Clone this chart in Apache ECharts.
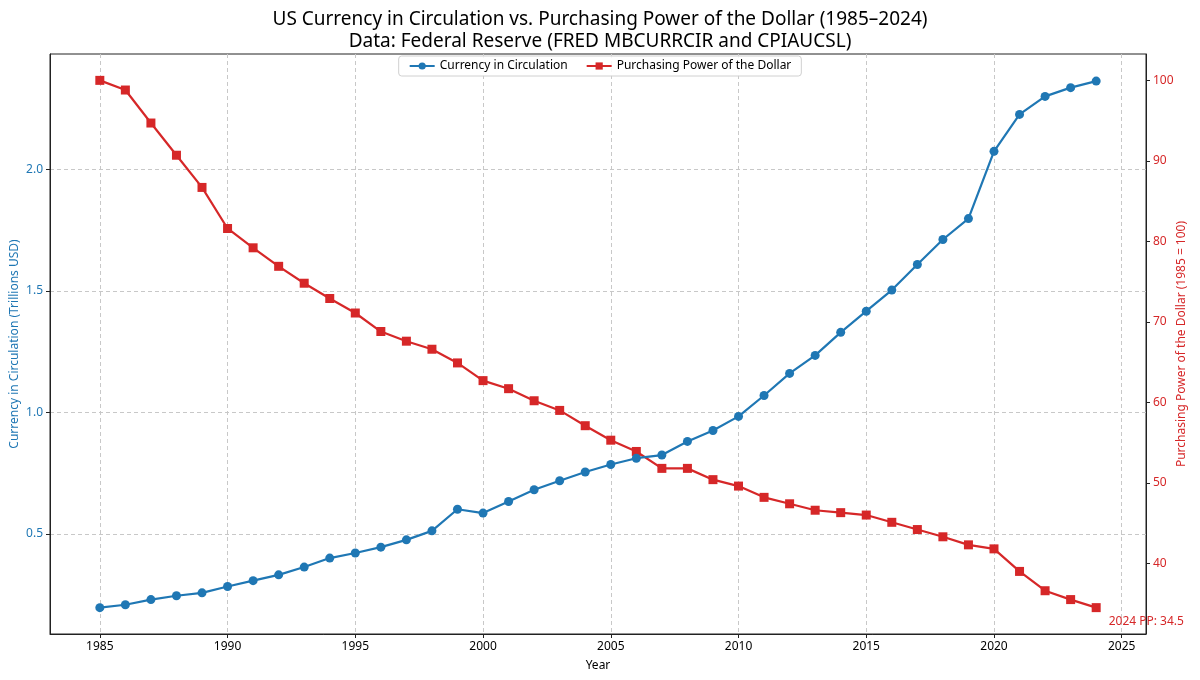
<!DOCTYPE html>
<html>
<head>
<meta charset="utf-8">
<script src="https://cdn.jsdelivr.net/npm/echarts@6/dist/echarts.min.js"></script>
<style>html,body{margin:0;padding:0;background:#fff;}#c{width:1200px;height:680px;}</style>
</head>
<body>
<div id="c"></div>
<script>
var years = [1985,1986,1987,1988,1989,1990,1991,1992,1993,1994,1995,1996,1997,1998,1999,2000,2001,2002,2003,2004,2005,2006,2007,2008,2009,2010,2011,2012,2013,2014,2015,2016,2017,2018,2019,2020,2021,2022,2023,2024];
var currency = [0.196,0.208,0.229,0.245,0.257,0.283,0.307,0.331,0.363,0.400,0.421,0.445,0.475,0.512,0.601,0.585,0.633,0.681,0.718,0.754,0.785,0.811,0.824,0.880,0.925,0.983,1.069,1.160,1.234,1.329,1.416,1.503,1.608,1.711,1.797,2.074,2.226,2.300,2.336,2.363];
var purchasing = [100.0,98.8,94.7,90.7,86.7,81.6,79.2,76.9,74.8,72.9,71.1,68.8,67.6,66.6,64.9,62.7,61.7,60.2,59.0,57.1,55.3,53.9,51.8,51.8,50.4,49.6,48.2,47.4,46.6,46.3,46.0,45.1,44.2,43.3,42.3,41.8,39.0,36.6,35.5,34.5];
var xTicks = [1985,1990,1995,2000,2005,2010,2015,2020,2025];
var leftTicks = [0.5,1.0,1.5,2.0];
var rightTicks = [40,50,60,70,80,90,100];
var annotationText = '2024 PP: 34.5';

var FONT = 'Noto Sans';
var BLUE = '#1f77b4', RED = '#d62728';

var curData = years.map(function(y,i){ return [y, currency[i]]; });
var ppData = years.map(function(y,i){
  var item = {value:[y, purchasing[i]]};
  if (i === years.length - 1) {
    item.label = {show:true, formatter: annotationText, position:'right', distance:8, offset:[0,13.5], color:RED, fontSize:12, fontFamily:FONT};
  }
  return item;
});

var gridLine = {show:true, lineStyle:{color:'#c8c8c8', type:[4,3], width:1}};

var chart = echarts.init(document.getElementById('c'));
chart.setOption({
  animation:false,
  backgroundColor:'#fff',
  title:{
    text:'US Currency in Circulation vs. Purchasing Power of the Dollar (1985\u20132024)\nData: Federal Reserve (FRED MBCURRCIR and CPIAUCSL)',
    left:'center', top:4,
    textStyle:{fontFamily:FONT, fontSize:19, fontWeight:'normal', color:'#000', lineHeight:22}
  },
  legend:{
    top:56, left:'center',
    itemWidth:25, itemHeight:9, itemGap:18,
    padding:[4,10],
    borderColor:'#d0d0d0', borderWidth:1, borderRadius:3, backgroundColor:'rgba(255,255,255,0.85)',
    textStyle:{fontFamily:FONT, fontSize:12, color:'#000'},
    data:['Currency in Circulation','Purchasing Power of the Dollar']
  },
  grid:{left:50, right:54, top:54, bottom:46, show:true, borderColor:'#222', borderWidth:1, backgroundColor:'transparent', containLabel:false, outerBoundsMode:'none'},
  xAxis:{
    type:'value', min:1983.05, max:2025.95,
    name:'Year', nameLocation:'middle', nameGap:26, nameMoveOverlap:false,
    nameTextStyle:{fontFamily:FONT, fontSize:12, color:'#000'},
    axisLine:{show:true, lineStyle:{color:'#222'}},
    axisTick:{show:true, length:4, lineStyle:{color:'#222'}, customValues:xTicks},
    axisLabel:{fontFamily:FONT, fontSize:12, color:'#000', margin:7, customValues:xTicks, formatter:function(v){return String(Math.round(v));}},
    splitLine:gridLine
  },
  yAxis:[{
    type:'value', min:0.0875, max:2.4745,
    name:'Currency in Circulation (Trillions USD)', nameLocation:'middle', nameGap:29, nameMoveOverlap:false,
    nameTextStyle:{fontFamily:FONT, fontSize:12, color:BLUE},
    axisLine:{show:true, lineStyle:{color:'#222'}},
    axisTick:{show:true, length:4, lineStyle:{color:'#222'}, customValues:leftTicks},
    axisLabel:{fontFamily:FONT, fontSize:12, color:BLUE, margin:7, customValues:leftTicks, formatter:function(v){return v.toFixed(1);}},
    splitLine:gridLine
  },{
    type:'value', min:31.225, max:103.275, position:'right',
    name:'Purchasing Power of the Dollar (1985 = 100)', nameLocation:'middle', nameGap:30, nameMoveOverlap:false,
    nameTextStyle:{fontFamily:FONT, fontSize:12, color:RED},
    axisLine:{show:true, lineStyle:{color:'#222'}},
    axisTick:{show:true, length:4, lineStyle:{color:'#222'}, customValues:rightTicks},
    axisLabel:{fontFamily:FONT, fontSize:12, color:RED, margin:7, customValues:rightTicks, formatter:function(v){return String(Math.round(v));}},
    splitLine:{show:false}
  }],
  series:[{
    name:'Currency in Circulation', type:'line', yAxisIndex:0,
    data:curData, symbol:'circle', symbolSize:9, clip:false,
    lineStyle:{color:BLUE, width:2.2}, itemStyle:{color:BLUE}, z:3
  },{
    name:'Purchasing Power of the Dollar', type:'line', yAxisIndex:1,
    data:ppData, symbol:'rect', symbolSize:9, clip:false,
    lineStyle:{color:RED, width:2.2}, itemStyle:{color:RED}, z:2
  }]
});
</script>
</body>
</html>
